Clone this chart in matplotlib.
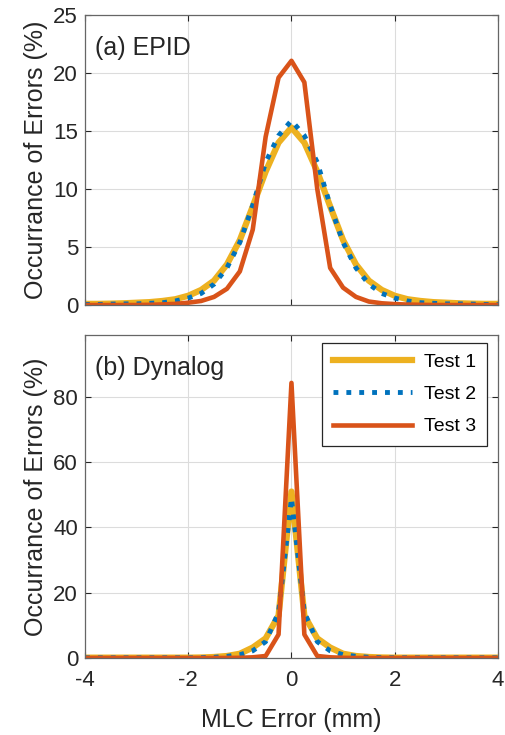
import numpy as np
import matplotlib
matplotlib.use('Agg')
import matplotlib.pyplot as plt

plt.rcParams['font.family'] = ['Liberation Sans', 'DejaVu Sans']

# MLC error bins (mm)
mlc_error = np.arange(-4, 4.001, 0.25)

# values given from 0 outwards (|x| = 0, 0.25, 0.5, ...), mirrored below
epid_t1_half = [15.3, 14.0, 11.5, 8.5, 5.6, 3.5, 2.1, 1.3, 0.8, 0.5, 0.35, 0.25,
                0.2, 0.15, 0.12, 0.1, 0.1]
epid_t2_half = [15.9, 14.6, 12.3, 8.6, 5.4, 3.2, 1.8, 1.0, 0.6, 0.35, 0.2, 0.15,
                0.1, 0.1, 0.08, 0.05, 0.05]
epid_t3_left = [19.6, 14.5, 6.5, 2.9, 1.4, 0.7, 0.35, 0.2, 0.1, 0.05, 0.02, 0.0,
                0.0, 0.0, 0.0, 0.0]
epid_t3_right = [19.2, 10.0, 3.2, 1.5, 0.7, 0.3, 0.15, 0.08, 0.04, 0.02, 0.0,
                 0.0, 0.0, 0.0, 0.0, 0.0]
epid_t3_peak = 21.05

dyn_t1_half = [51.0, 13.0, 6.0, 3.2, 1.3, 0.6, 0.3, 0.15, 0.1, 0.1, 0.1, 0.1,
               0.1, 0.1, 0.1, 0.1, 0.1]
dyn_t2_half = [49.0, 14.0, 5.0, 2.2, 1.0, 0.5, 0.2, 0.1, 0.05, 0.05, 0.05, 0.05,
               0.05, 0.05, 0.05, 0.05, 0.05]
dyn_t3_half = [84.3, 7.2, 0.6, 0.2, 0.05, 0.0, 0.0, 0.0, 0.0, 0.0, 0.0, 0.0,
               0.0, 0.0, 0.0, 0.0, 0.0]


def mirror(half):
    half = list(half)
    return np.array(half[:0:-1] + half)


epid_t1 = mirror(epid_t1_half)
epid_t2 = mirror(epid_t2_half)
epid_t3 = np.array(epid_t3_left[::-1] + [epid_t3_peak] + epid_t3_right)
dyn_t1 = mirror(dyn_t1_half)
dyn_t2 = mirror(dyn_t2_half)
dyn_t3 = mirror(dyn_t3_half)

c_yellow = '#EDB120'
c_blue = '#0072BD'
c_red = '#D95319'
ax_col = '#262626'

fig = plt.figure(figsize=(5.06, 7.35), dpi=100)
ax1 = fig.add_axes([0.168, 0.585, 0.816, 0.3946])
ax2 = fig.add_axes([0.168, 0.1048, 0.816, 0.4395])


def style(ax):
    ax.grid(True, color='#dcdcdc', linewidth=0.8)
    ax.set_axisbelow(True)
    ax.tick_params(direction='in', length=4, width=0.8, colors=ax_col,
                   labelsize=16, top=True, right=True)
    ax.tick_params(axis='x', pad=9)
    ax.tick_params(axis='y', pad=5)
    for s in ax.spines.values():
        s.set_color('#666666')
        s.set_linewidth(0.9)
    ax.set_xlim(-4, 4)
    ax.set_xticks([-4, -2, 0, 2, 4])


# (a) EPID
ax1.plot(mlc_error, epid_t1, '-', color=c_yellow, lw=4.5)
ax1.plot(mlc_error, epid_t2, ':', color=c_blue, lw=3.5)
ax1.plot(mlc_error, epid_t3, '-', color=c_red, lw=3.3)
style(ax1)
ax1.set_ylim(0, 25)
ax1.set_yticks([0, 5, 10, 15, 20, 25])
ax1.set_xticklabels([])
ax1.set_ylabel('Occurrance of Errors (%)', fontsize=18, color=ax_col, labelpad=4)
ax1.text(0.025, 0.885, '(a) EPID', transform=ax1.transAxes, fontsize=18,
         color=ax_col, va='center')

# (b) Dynalog
ax2.plot(mlc_error, dyn_t1, '-', color=c_yellow, lw=4.5, label='Test 1')
ax2.plot(mlc_error, dyn_t2, ':', color=c_blue, lw=3.5, label='Test 2')
ax2.plot(mlc_error, dyn_t3, '-', color=c_red, lw=3.3, label='Test 3')
style(ax2)
ax2.set_ylim(0, 99)
ax2.set_yticks([0, 20, 40, 60, 80])
ax2.set_xticklabels(['-4', '-2', '0', '2', '4'])
ax2.set_ylabel('Occurrance of Errors (%)', fontsize=18, color=ax_col, labelpad=4)
ax2.set_xlabel('MLC Error (mm)', fontsize=18, color=ax_col, labelpad=12)
ax2.text(0.025, 0.898, '(b) Dynalog', transform=ax2.transAxes, fontsize=18,
         color=ax_col, va='center')
leg = ax2.legend(loc='upper right', fontsize=14, fancybox=False,
                 edgecolor=ax_col, framealpha=1, handlelength=4.1,
                 borderpad=0.55, labelspacing=0.75, handletextpad=0.6,
                 borderaxespad=0, bbox_to_anchor=(0.973, 0.976))
leg.get_frame().set_linewidth(0.9)

fig.savefig('out.png', dpi=100)
